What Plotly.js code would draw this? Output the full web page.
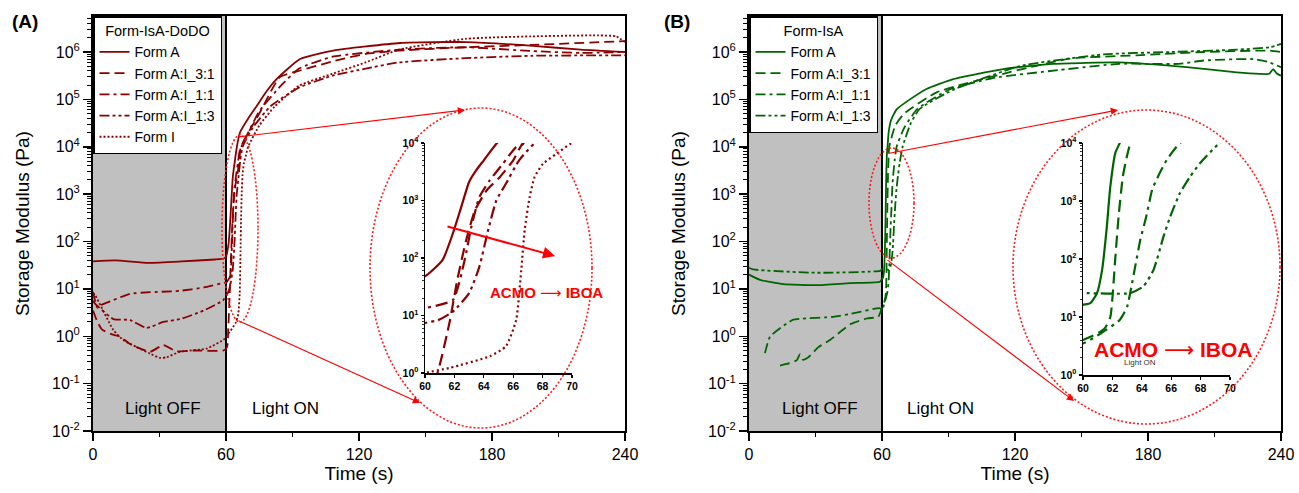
<!DOCTYPE html>
<html><head><meta charset="utf-8">
<script src="https://cdn.plot.ly/plotly-3.0.1.min.js"></script>
<style>html,body{margin:0;padding:0;background:#fff}</style>
</head><body><div id="chart" style="width:1299px;height:493px"></div>
<script>
// ---------- DATA (Time s, Storage modulus Pa) ----------
// Panel A : Form-IsA-DoDO
const A_formA_t = [0,10,25,40,55,59,60,61.2,61.9,62.4,63.0,63.5,64.0,64.9,66.3,70.8,73.8,78,82.9,93.4,108.4,138.5,168.6,198.5,220,240];
const A_formA_g = [38,40,35.5,38,41.7,43.7,48,93,270,680,2100,3400,5000,10000,20000,45000,72000,141000,270000,710000,1070000,1550000,1620000,1350000,1120000,1000000];
const A_31_t = [0,2,4,8,12.2,16.7,25.7,31.7,37.7,45.2,58.8,60.5,61,61.7,62.2,62.8,63.4,64.2,65.1,66.0,66.7,75,84.3,93.4,108,123,138,168,198,240];
const A_31_g = [3.5,2,1.4,1.12,0.98,0.69,0.47,0.65,0.48,0.5,0.5,0.6,1.38,8.3,42,204,676,1510,2570,5000,10000,50000,295000,407000,631000,912000,1070000,1260000,1410000,1700000];
const A_11_t = [0,2,3.9,9.2,16.7,39.2,50,59.5,60,61.9,62.7,63.15,63.7,64.4,65.3,66.2,66.9,75,85,93,108,138,168,198,220,240];
const A_11_g = [8.7,4,4.6,5.8,7.9,9.1,10.7,13.5,13.5,18.6,93,347,1150,2240,4370,8500,10000,56000,200000,447000,794000,1120000,1260000,1050000,955000,1000000];
const A_13_t = [0,0.9,9.2,16.7,24.2,31.7,39.2,50,58.8,60,60.9,61.9,63.0,63.7,64.3,64.85,65.5,66.4,67.5,72,80,93,108,123,138,168,198,240];
const A_13_g = [5.6,4.9,2.3,2.2,1.5,2,2.3,3.5,5.8,7.4,8.3,11.7,24.5,71,309,1000,1950,5000,10000,25000,71000,178000,316000,447000,603000,741000,832000,851000];
const A_I_t = [0,0.9,9.2,13.7,19.7,25.7,30.2,33.2,39.2,51.3,59.5,60,61.7,64.4,65.5,66.2,66.55,66.78,67.12,67.46,68.03,68.93,70,75,82,93,108,123,138,168,198,228,236,240];
const A_I_g = [8,7.4,1.35,0.83,0.59,0.43,0.35,0.36,0.47,0.55,0.89,1.0,1.23,1.95,2.9,8.3,62,309,1150,2570,4370,6460,10000,28000,71000,195000,347000,603000,1120000,1900000,2140000,2240000,2140000,1620000];

// Panel B : Form-IsA
const B_formA_t = [0,5,15.5,30.5,45.6,59.1,60,60.5,60.95,61.3,61.6,61.86,62.2,62.5,63,64,66.6,72.6,80.1,92.2,114.7,137.3,167.3,197.4,220,230.5,234.7,236.5,238,240];
const B_formA_g = [20,15.5,12.6,12,13.2,14.1,16.2,17.4,25.7,65,316,1780,6760,10000,20000,35500,61700,100000,166000,269000,437000,562000,603000,479000,372000,347000,347000,437000,355000,316000];
const B_31_t = [14,17,21.5,23,24.3,26.8,31.3,36.5,45.6,53.1,58.3,60,61,61.5,61.86,62.19,62.42,62.71,62.99,63.26,66,70,84.7,114.7,144.8,174.9,204.9,235,240];
const B_31_g = [0.24,0.26,0.31,0.42,0.32,0.36,0.59,0.83,1.78,2.37,2.57,4,5.2,6.5,10,98,537,2630,5890,10000,28000,50000,141000,347000,724000,851000,1000000,1070000,1000000];
const B_11_t = [7.2,9.5,17,20,23,38,45.6,59.1,60,61.2,62.5,63.0,63.3,63.55,63.9,64.3,64.7,65.0,65.7,66.6,70,76,90,110,140,167,194,205,227.5,234,240];
const B_11_g = [0.44,0.98,1.86,2.24,2.34,2.57,2.95,3.9,3.5,5.2,8.9,15,34,74,214,537,1550,2340,5130,10000,25000,63000,158000,282000,417000,562000,562000,661000,708000,620000,479000];
const B_13_t = [0,1.9,30.5,59.1,60,63.2,64.12,64.8,65.48,65.93,66.6,67.29,67.96,69.3,73,77,92,122,160,190,220,235,240];
const B_13_g = [28,25.7,21.9,24,25.7,25.7,34,65,245,537,1380,2630,4470,10000,31600,63000,158000,501000,891000,1000000,1120000,1260000,1480000];

const seriesNames = ['Form A','Form A:I_3:1','Form A:I_1:1','Form A:I_1:3','Form I'];
const legendTitles = ['Form-IsA-DoDO','Form-IsA'];
const yTickVals = [1e-2,1e-1,1e0,1e1,1e2,1e3,1e4,1e5,1e6];
const yTickText = ['10<sup>-2</sup>','10<sup>-1</sup>','10<sup>0</sup>','10<sup>1</sup>','10<sup>2</sup>','10<sup>3</sup>','10<sup>4</sup>','10<sup>5</sup>','10<sup>6</sup>'];
const insetYVals = [1,10,100,1000,10000];
const insetYText = ['10<sup>0</sup>','10<sup>1</sup>','10<sup>2</sup>','10<sup>3</sup>','10<sup>4</sup>'];

// ---------- STYLE ----------
const W = 1299, H = 493;
const PX = x => x / W, PY = y => 1 - y / H;
const RED = '#8b0000', GREEN = '#006400';
const FONT = 'Arial, "Liberation Sans", sans-serif';
const dashes = ['solid', '10px,5px', '10px,4px,3px,4px', '10px,3px,3px,3px,3px,3px', '2px,2px'];
const insetDashes = ['solid', '12px,6px', '12px,5px,3px,5px', '12px,4px,3px,4px,3px,4px', '2px,3px'];

const minorVals = [];
for (let e = -2; e <= 6; e++) for (let k = 2; k <= 9; k++) minorVals.push(k * Math.pow(10, e));

const A_series = [[A_formA_t,A_formA_g],[A_31_t,A_31_g],[A_11_t,A_11_g],[A_13_t,A_13_g],[A_I_t,A_I_g]];
const B_series = [[B_formA_t,B_formA_g],[B_31_t,B_31_g],[B_11_t,B_11_g],[B_13_t,B_13_g]];

const traces = [];
function addPanel(series, color, xa, ya, xi, yi, legendId) {
  series.forEach((s, i) => {
    traces.push({x: s[0], y: s[1], type: 'scatter', mode: 'lines', name: seriesNames[i],
      xaxis: xa, yaxis: ya, legend: legendId,
      line: {color: color, width: 1.8, dash: dashes[i], shape: 'spline', smoothing: 0.5}});
  });
  series.forEach((s, i) => {
    traces.push({x: s[0], y: s[1], type: 'scatter', mode: 'lines', showlegend: false,
      xaxis: xi, yaxis: yi, line: {color: color, width: 2.2, dash: insetDashes[i], shape: 'spline', smoothing: 0.5}});
  });
}
addPanel(A_series, RED, 'x', 'y', 'x3', 'y3', 'legend');
addPanel(B_series, GREEN, 'x2', 'y2', 'x4', 'y4', 'legend2');

function mainX(dom, anchor) {
  return {domain: dom, anchor: anchor, range: [0, 240], tickmode: 'linear', tick0: 0, dtick: 60,
    ticks: 'outside', ticklen: 8, tickwidth: 1.5, tickcolor: '#000',
    minor: {dtick: 30, ticks: 'outside', ticklen: 4, tickwidth: 1.5, tickcolor: '#000', showgrid: false},
    showline: true, linewidth: 2, linecolor: '#000', mirror: true, showgrid: false, zeroline: false,
    tickfont: {size: 16, color: '#000', family: FONT},
    title: {text: 'Time (s)', font: {size: 19, color: '#000', family: FONT}, standoff: 4}};
}
function mainY(anchor) {
  return {domain: [PY(431), PY(16)], anchor: anchor, type: 'log', range: [-2, 6.76],
    tickmode: 'array', tickvals: yTickVals, ticktext: yTickText,
    ticks: 'outside', ticklen: 8, tickwidth: 1.5, tickcolor: '#000',
    minor: {tickmode: 'array', tickvals: minorVals, ticks: 'outside', ticklen: 4, tickwidth: 1, tickcolor: '#000', showgrid: false},
    showline: true, linewidth: 2, linecolor: '#000', mirror: true, showgrid: false, zeroline: false,
    tickfont: {size: 16, color: '#000', family: FONT},
    title: {text: 'Storage Modulus (Pa)', font: {size: 19, color: '#000', family: FONT}, standoff: 17}};
}
function insetX(dom, anchor) {
  return {domain: dom, anchor: anchor, range: [60, 70], tickmode: 'linear', tick0: 60, dtick: 2,
    ticks: 'outside', ticklen: 3, tickwidth: 1.2, tickcolor: '#000',
    showline: true, linewidth: 1.5, linecolor: '#000', mirror: false, showgrid: false, zeroline: false,
    tickfont: {size: 10.5, color: '#000', family: FONT, weight: 'bold'}};
}
function insetY(dom, anchor) {
  return {domain: dom, anchor: anchor, type: 'log', range: [0, 4],
    tickmode: 'array', tickvals: insetYVals, ticktext: insetYText,
    ticks: 'outside', ticklen: 3, tickwidth: 1.2, tickcolor: '#000',
    minor: {tickmode: 'array', tickvals: minorVals, ticks: 'outside', ticklen: 2, tickwidth: 0.8, tickcolor: '#000', showgrid: false},
    showline: true, linewidth: 1.5, linecolor: '#000', mirror: false, showgrid: false, zeroline: false,
    tickfont: {size: 10.5, color: '#000', family: FONT, weight: 'bold'}};
}

function legendCfg(x, title) {
  return {x: x, y: PY(16), xanchor: 'left', yanchor: 'top', bgcolor: '#fff',
    bordercolor: '#000', borderwidth: 1.5, tracegroupgap: 0, itemwidth: 30,
    font: {size: 14, color: '#000', family: FONT},
    title: {text: title, side: 'top center', font: {size: 14.5, color: '#000', family: FONT}}};
}

const shapes = [];
[['x','y'],['x2','y2']].forEach(([xr, yr]) => {
  shapes.push({type: 'rect', xref: xr, yref: yr + ' domain', x0: 0, x1: 60, y0: 0, y1: 1,
    fillcolor: '#c0c0c0', line: {width: 0}, layer: 'below'});
  shapes.push({type: 'line', xref: xr, yref: yr + ' domain', x0: 60, x1: 60, y0: 0, y1: 1,
    line: {color: '#000', width: 2}, layer: 'below'});
});
function ell(x0, x1, y0, y1) {
  shapes.push({type: 'circle', xref: 'paper', yref: 'paper', x0: PX(x0), x1: PX(x1), y0: PY(y1), y1: PY(y0),
    line: {color: '#ff1a1a', width: 1.6, dash: '2px,2px'}, layer: 'above'});
}
ell(222, 258, 135, 322);
ell(370, 592, 108, 428);
ell(869, 914, 148, 258);
ell(1013, 1280, 110, 424);

const annotations = [];
function arrow(tx, ty, hx, hy, w) {
  annotations.push({xref: 'paper', yref: 'paper', x: PX(hx), y: PY(hy), ax: tx - hx, ay: ty - hy,
    axref: 'pixel', ayref: 'pixel', text: '', showarrow: true, arrowhead: 2, arrowsize: 1.2,
    arrowwidth: w, arrowcolor: '#ff0000', standoff: 0, startstandoff: 0});
}
arrow(237, 137, 465, 110, 1.2);
arrow(237, 320, 420, 403, 1.2);
arrow(446, 226, 555, 256, 2);
arrow(885, 154, 1118, 110, 1.2);
arrow(886, 259, 1074, 401, 1.2);

function txt(s, x, y, size, color, bold, anchor) {
  annotations.push({xref: 'paper', yref: 'paper', x: PX(x), y: PY(y), text: s, showarrow: false,
    xanchor: anchor || 'center', yanchor: 'middle',
    font: {size: size, color: color, family: FONT, weight: bold ? 'bold' : 'normal'}});
}
const ARROW = '<span style="font-family:\'DejaVu Sans\';font-weight:normal">\u27F6</span>';
txt('(A)', 25, 22, 19, '#000', true);
txt('(B)', 677, 22, 19, '#000', true);
txt('Light OFF', 163, 408, 17, '#000');
txt('Light ON', 285, 408, 17, '#000');
txt('Light OFF', 820, 408, 17, '#000');
txt('Light ON', 940, 408, 17, '#000');
txt('ACMO ' + ARROW + ' IBOA', 546, 293, 15, '#ff0000', true);
txt('ACMO ' + ARROW + ' IBOA', 1173, 350, 21, '#ff0000', true);
txt('Light ON', 1140, 362, 8, '#333');

const layout = {
  width: W, height: H, margin: {l: 0, r: 0, t: 0, b: 0},
  paper_bgcolor: '#fff', plot_bgcolor: 'rgba(0,0,0,0)',
  font: {family: FONT, color: '#000'},
  xaxis: mainX([PX(93), PX(625)], 'y'),
  yaxis: mainY('x'),
  xaxis2: mainX([PX(749), PX(1281)], 'y2'),
  yaxis2: mainY('x2'),
  xaxis3: insetX([PX(425), PX(572)], 'y3'),
  yaxis3: insetY([PY(373), PY(143)], 'x3'),
  xaxis4: insetX([PX(1083), PX(1230)], 'y4'),
  yaxis4: insetY([PY(375), PY(143)], 'x4'),
  legend: legendCfg(PX(93), legendTitles[0]),
  legend2: legendCfg(PX(749), legendTitles[1]),
  shapes: shapes, annotations: annotations
};
Plotly.newPlot('chart', traces, layout, {displayModeBar: false, staticPlot: true});
</script></body></html>
